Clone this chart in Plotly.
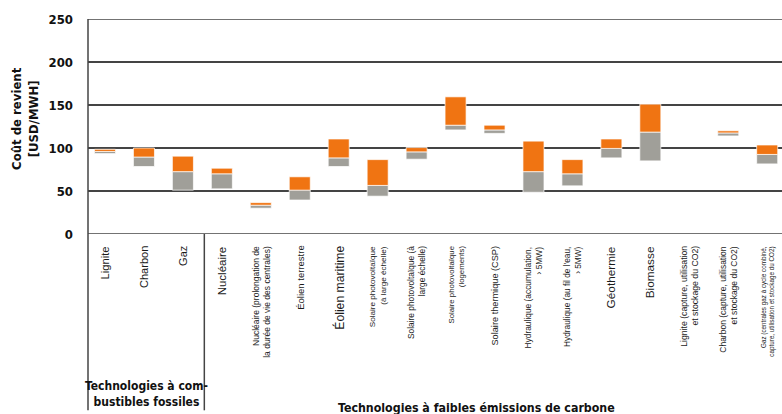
import plotly.graph_objects as go

categories = [
    "Lignite", "Charbon", "Gaz", "Nucléaire",
    "Nucléaire (prolongation de<br>la durée de vie des centrales)",
    "Éolien terrestre", "Éolien maritime",
    "Solaire photovoltaïque<br>(à large échelle)",
    "Solaire photovoltaïque (à<br>large échelle)",
    "Solaire photovoltaïque<br>(logements)",
    "Solaire thermique (CSP)",
    "Hydraulique (accumulation,<br>› 5MW)",
    "Hydraulique (au fil de l'eau,<br>› 5MW)",
    "Géothermie", "Biomasse",
    "Lignite (capture, utilisation<br>et stockage du CO2)",
    "Charbon (capture, utilisation<br>et stockage du CO2)",
    "Gaz (centrales gaz à cycle combiné,<br>capture, utilisation et stockage du CO2)",
]
# cost range (USD/MWh): low, middle, high
low = [93.5, 78.5, 51, 52.5, 30, 39.5, 78.5, 44, 87, 121, 117, 48.5, 56, 88.5, 85, None, 114, 81.5]
mid = [96, 89.5, 72.5, 70, 33.5, 51, 88.5, 56.5, 95.5, 126.5, 121, 72.5, 70, 99.5, 118.5, None, 117.5, 92.5]
high = [98.5, 100, 90.5, 76.5, 36.5, 66.5, 110.5, 86.5, 100.5, 159.5, 126.5, 108, 86.5, 110.5, 151, None, 120, 103.5]

group_labels = ["Technologies à com-<br>bustibles fossiles",
                "Technologies à faibles émissions de carbone"]
y_title = "Coût de revient<br>[USD/MWH]"
y_ticks = [0, 50, 100, 150, 200, 250]

label_sizes = [11.2, 11, 11, 11.5, 8.5, 9.5, 12.2, 8.1, 8.4, 7.8, 9.2, 8.4, 8.3, 11.8, 11.8, 8.7, 8.5, 6.3]

COND = "DejaVu Sans Condensed, Roboto, sans-serif"

xs = list(range(len(categories)))
gray_h = [None if l is None else m - l for l, m in zip(low, mid)]
orange_h = [None if m is None else h - m for m, h in zip(mid, high)]

fig = go.Figure()
fig.add_trace(go.Bar(x=xs, y=gray_h, base=low, width=0.54,
                     marker=dict(color="#a09f99", line=dict(color="rgba(255,255,255,0.7)", width=1)),
                     showlegend=False, hoverinfo="skip"))
fig.add_trace(go.Bar(x=xs, y=orange_h, base=mid, width=0.54,
                     marker=dict(color="#f07412", line=dict(color="rgba(255,255,255,0.7)", width=1)),
                     showlegend=False, hoverinfo="skip"))

for i, (c, s) in enumerate(zip(categories, label_sizes)):
    fig.add_annotation(x=i, y=0, xref="x", yref="y", text=c, textangle=-90,
                       showarrow=False, xanchor="center", yanchor="top", yshift=-10,
                       align="right",
                       font=dict(family="Liberation Sans, Arial", size=s, color="#1a1a1a"))

fig.add_annotation(x=-0.0908, y=0.54, xref="paper", yref="paper", text=y_title,
                   textangle=-90, showarrow=False, xanchor="center", yanchor="middle",
                   font=dict(family=COND, size=13, color="#111", weight="bold"))
fig.add_annotation(x=(146 - 88) / 694, y=(234 - 394) / 215, xref="paper", yref="paper",
                   text=group_labels[0], showarrow=False, xanchor="center", yanchor="middle",
                   font=dict(family=COND, size=12, color="#111", weight="bold"))
fig.add_annotation(x=(476 - 88) / 694, y=(234 - 408) / 215, xref="paper", yref="paper",
                   text=group_labels[1], showarrow=False, xanchor="center", yanchor="middle",
                   font=dict(family=COND, size=12.3, color="#111", weight="bold"))

line_style = dict(color="#444", width=1.5)
fig.add_shape(type="line", xref="paper", yref="paper", x0=0, x1=0, y0=1, y1=-0.82, line=line_style)
fig.add_shape(type="line", xref="x", yref="paper", x0=2.55, x1=2.55, y0=0, y1=-0.82, line=line_style)
fig.add_shape(type="line", xref="paper", yref="y", x0=0, x1=1, y0=0, y1=0, line=line_style)
fig.add_shape(type="line", xref="paper", yref="y", x0=0, x1=1, y0=250, y1=250, line=line_style)

fig.update_layout(
    width=782, height=414,
    margin=dict(l=88, r=0, t=19, b=180),
    plot_bgcolor="white", paper_bgcolor="white",
    barmode="overlay",
    xaxis=dict(range=[-0.436, 17.38], showticklabels=False, showgrid=False,
               zeroline=False, ticks=""),
    yaxis=dict(range=[0, 250], tickvals=y_ticks, showgrid=True, gridcolor="#444",
               gridwidth=1.5, zeroline=False, ticks="", ticklabelstandoff=14,
               tickfont=dict(family=COND, size=13, color="#111", weight="bold")),
)

fig.write_html("out.html", config={"displayModeBar": False},
               post_script="document.body.style.margin='0';")
